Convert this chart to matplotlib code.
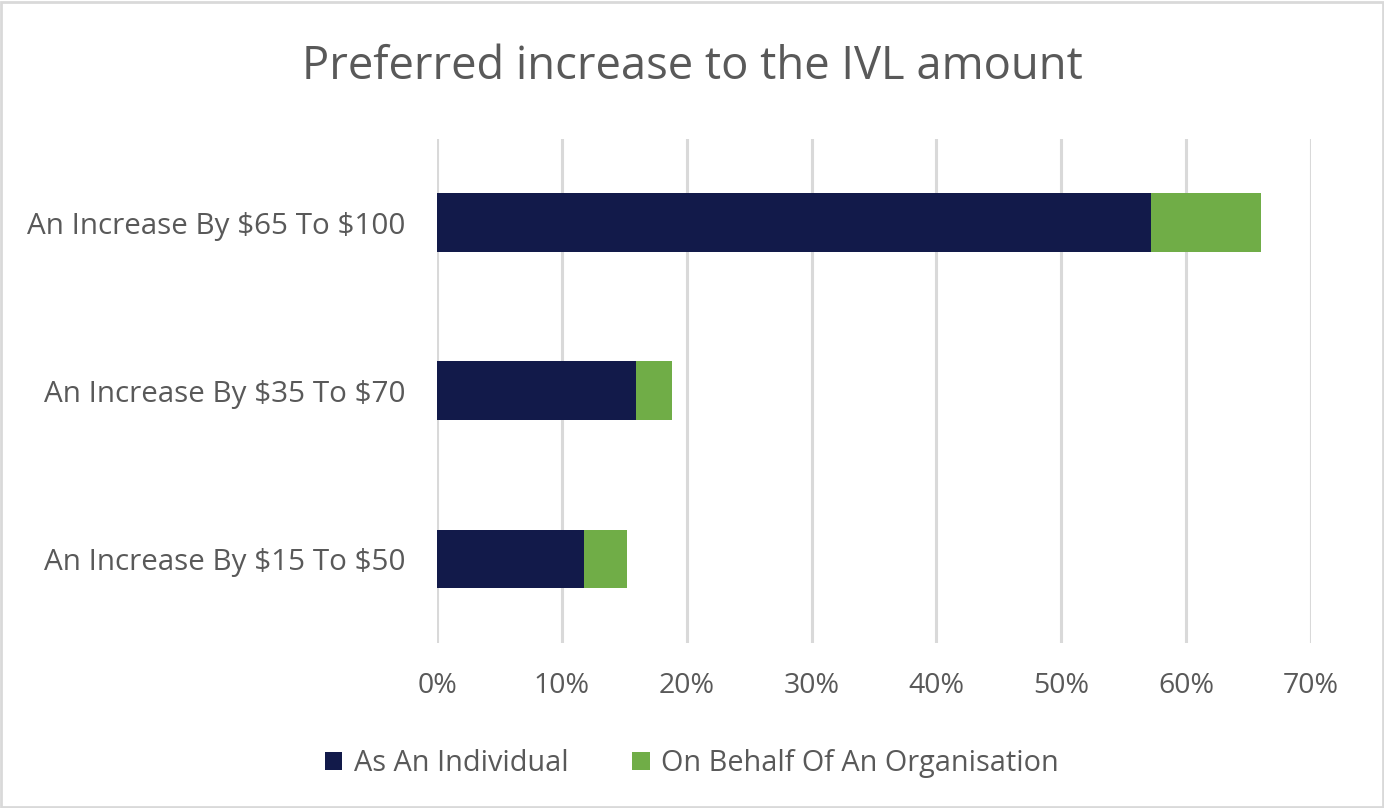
import matplotlib.pyplot as plt
from matplotlib.patches import Rectangle
from matplotlib.ticker import FuncFormatter

# values (fractions of respondents)
categories = ['An Increase By \\$15 To \\$50', 'An Increase By \\$35 To \\$70', 'An Increase By \\$65 To \\$100']
individual = [0.118, 0.159, 0.572]
organisation = [0.034, 0.029, 0.088]
series_names = ['As An Individual', 'On Behalf Of An Organisation']
x_ticks = [0, 0.1, 0.2, 0.3, 0.4, 0.5, 0.6, 0.7]

NAVY = '#121A4A'
GREEN = '#70AD47'
TEXT = '#595959'
GRID = '#D9D9D9'

plt.rcParams['font.family'] = ['Open Sans', 'DejaVu Sans']

fig = plt.figure(figsize=(13.84, 8.08), dpi=100)
ax = fig.add_axes([0.3158, 0.2042, 0.6315, 0.624])

ypos = range(len(categories))
ax.barh(ypos, individual, height=0.35, color=NAVY, label=series_names[0], zorder=3)
ax.barh(ypos, organisation, left=individual, height=0.35, color=GREEN, label=series_names[1], zorder=3)

ax.set_xlim(0, 0.7)
ax.set_ylim(-0.5, 2.5)
ax.set_xticks(x_ticks)
ax.xaxis.set_major_formatter(FuncFormatter(lambda v, _: f'{v * 100:.0f}%'))
ax.set_yticks(list(ypos))
ax.set_yticklabels(categories)
ax.tick_params(axis='x', length=0, labelsize=20.5, colors=TEXT, pad=21)
ax.tick_params(axis='y', length=0, labelsize=21.3, colors=TEXT, pad=23)
ax.grid(axis='x', color=GRID, linewidth=2.2, zorder=0)
for s in ax.spines.values():
    s.set_visible(False)

fig.text(0.5, 0.917, 'Preferred increase to the IVL amount', ha='center', va='center',
         fontsize=32.7, color=TEXT)

ax.legend(loc='center', bbox_to_anchor=(0.5, 0.055), bbox_transform=fig.transFigure,
          ncol=2, frameon=False, fontsize=20.8, labelcolor=TEXT,
          handlelength=0.6, handleheight=0.6, handletextpad=0.4, columnspacing=2.2)

# light frame around the whole chart
fig.patches.append(Rectangle((0.001, 0.001), 0.998, 0.997, transform=fig.transFigure,
                             fill=False, edgecolor=GRID, linewidth=2))

fig.savefig('out.png', dpi=100)
